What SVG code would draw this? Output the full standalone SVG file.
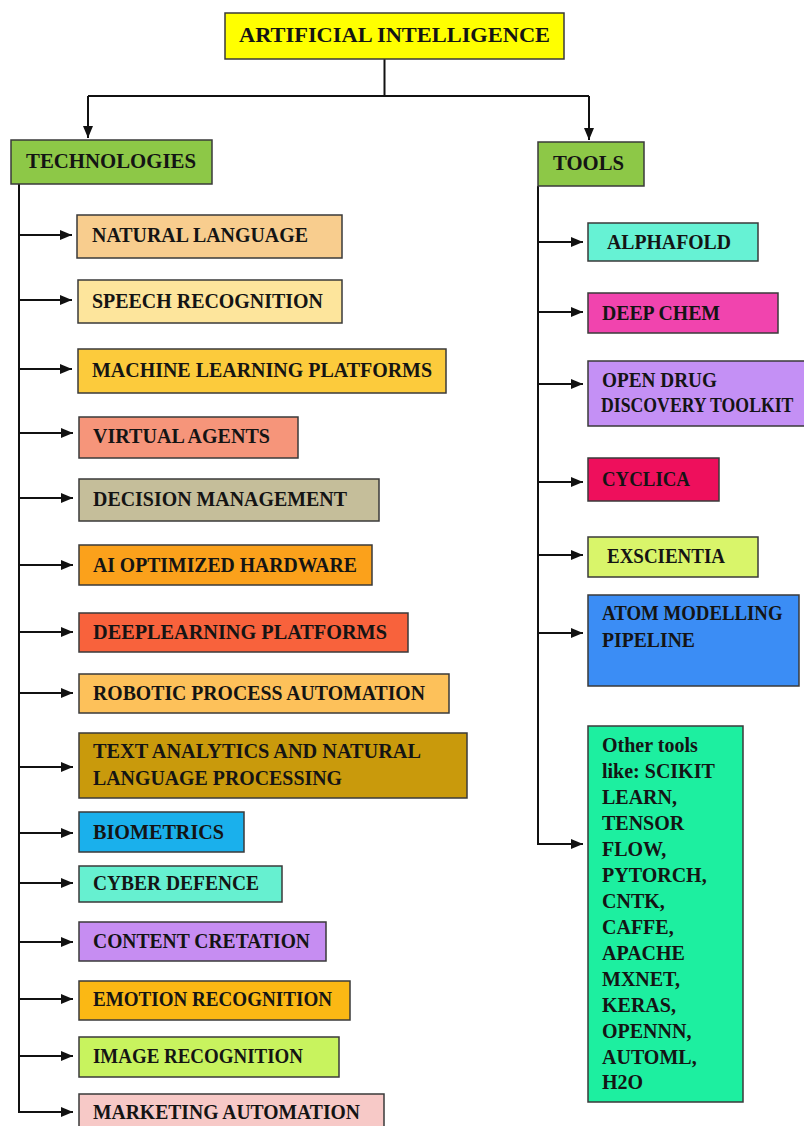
<svg xmlns="http://www.w3.org/2000/svg" width="804" height="1126" viewBox="0 0 804 1126">
<style>
.box{stroke:#3a3a3a;stroke-width:1.5}
.t{font-family:"Liberation Serif","Times New Roman",serif;font-weight:bold;font-size:22px;fill:#141414}
.s{font-family:"Liberation Serif","Times New Roman",serif;font-weight:bold;font-size:20px;fill:#141414}
.c{fill:none;stroke:#111;stroke-width:2}
</style>
<defs>
<marker id="ah" markerUnits="userSpaceOnUse" markerWidth="12" markerHeight="10" refX="12" refY="5" orient="auto">
<path d="M0,0 L12,5 L0,10 z" fill="#111"/>
</marker>
</defs>
<rect width="804" height="1126" fill="#fff"/>
<g id="connectors">
<path class="c" d="M384.5,59 V96"/>
<path class="c" d="M88,96 H589"/>
<path class="c" d="M88,96 V138" marker-end="url(#ah)"/>
<path class="c" d="M589,96 V140" marker-end="url(#ah)"/>
<path class="c" d="M19,184 V1112 H73" marker-end="url(#ah)"/>
<path class="c" d="M19,235 H72" marker-end="url(#ah)"/>
<path class="c" d="M19,300 H72" marker-end="url(#ah)"/>
<path class="c" d="M19,369 H72" marker-end="url(#ah)"/>
<path class="c" d="M19,433 H73" marker-end="url(#ah)"/>
<path class="c" d="M19,498 H73" marker-end="url(#ah)"/>
<path class="c" d="M19,565 H73" marker-end="url(#ah)"/>
<path class="c" d="M19,632 H73" marker-end="url(#ah)"/>
<path class="c" d="M19,693 H73" marker-end="url(#ah)"/>
<path class="c" d="M19,767 H73" marker-end="url(#ah)"/>
<path class="c" d="M19,833 H73" marker-end="url(#ah)"/>
<path class="c" d="M19,883 H73" marker-end="url(#ah)"/>
<path class="c" d="M19,942 H73" marker-end="url(#ah)"/>
<path class="c" d="M19,999 H73" marker-end="url(#ah)"/>
<path class="c" d="M19,1056 H73" marker-end="url(#ah)"/>
<path class="c" d="M538,186 V844 H583" marker-end="url(#ah)"/>
<path class="c" d="M538,242 H583" marker-end="url(#ah)"/>
<path class="c" d="M538,312 H583" marker-end="url(#ah)"/>
<path class="c" d="M538,384 H583" marker-end="url(#ah)"/>
<path class="c" d="M538,482 H583" marker-end="url(#ah)"/>
<path class="c" d="M538,555 H583" marker-end="url(#ah)"/>
<path class="c" d="M538,633 H583" marker-end="url(#ah)"/>
</g>
<g id="ai"><rect class="box" x="225" y="13" width="339" height="46" fill="#FFFF00"/><text class="t" x="239" y="42" textLength="311" lengthAdjust="spacingAndGlyphs">ARTIFICIAL INTELLIGENCE</text></g>
<g id="technologies"><rect class="box" x="11" y="140" width="201" height="44" fill="#8DC847"/><text class="t" x="26" y="168" textLength="170" lengthAdjust="spacingAndGlyphs">TECHNOLOGIES</text></g>
<g id="tools"><rect class="box" x="538" y="142" width="106" height="44" fill="#8DC847"/><text class="t" x="553" y="170" textLength="71" lengthAdjust="spacingAndGlyphs">TOOLS</text></g>

<g id="natural-language"><rect class="box" x="77" y="215" width="265" height="43" fill="#F8CD8E"/><text class="t" x="92" y="242" textLength="216" lengthAdjust="spacingAndGlyphs">NATURAL LANGUAGE</text></g>
<g id="speech-recognition"><rect class="box" x="78" y="280" width="264" height="43" fill="#FDE59C"/><text class="t" x="92" y="308" textLength="231" lengthAdjust="spacingAndGlyphs">SPEECH RECOGNITION</text></g>
<g id="ml-platforms"><rect class="box" x="78" y="349" width="368" height="44" fill="#FCCB3C"/><text class="t" x="92" y="377" textLength="340" lengthAdjust="spacingAndGlyphs">MACHINE LEARNING PLATFORMS</text></g>
<g id="virtual-agents"><rect class="box" x="79" y="417" width="219" height="41" fill="#F6957A"/><text class="t" x="93" y="443" textLength="177" lengthAdjust="spacingAndGlyphs">VIRTUAL AGENTS</text></g>
<g id="decision-management"><rect class="box" x="79" y="479" width="300" height="42" fill="#C5BE9A"/><text class="t" x="93" y="506" textLength="254" lengthAdjust="spacingAndGlyphs">DECISION MANAGEMENT</text></g>
<g id="ai-hardware"><rect class="box" x="79" y="545" width="293" height="40" fill="#FBA11B"/><text class="t" x="93" y="572" textLength="264" lengthAdjust="spacingAndGlyphs">AI OPTIMIZED HARDWARE</text></g>
<g id="deeplearning"><rect class="box" x="79" y="613" width="329" height="39" fill="#F8623C"/><text class="t" x="93" y="639" textLength="294" lengthAdjust="spacingAndGlyphs">DEEPLEARNING PLATFORMS</text></g>
<g id="rpa"><rect class="box" x="79" y="674" width="370" height="39" fill="#FDC15A"/><text class="t" x="93" y="700" textLength="332" lengthAdjust="spacingAndGlyphs">ROBOTIC PROCESS AUTOMATION</text></g>
<g id="text-analytics"><rect class="box" x="79" y="733" width="388" height="65" fill="#C99A0C"/><text class="t" x="93" y="758" textLength="328" lengthAdjust="spacingAndGlyphs">TEXT ANALYTICS AND NATURAL</text><text class="t" x="93" y="785" textLength="249" lengthAdjust="spacingAndGlyphs">LANGUAGE PROCESSING</text></g>
<g id="biometrics"><rect class="box" x="79" y="812" width="165" height="40" fill="#1AB0EC"/><text class="t" x="93" y="839" textLength="131" lengthAdjust="spacingAndGlyphs">BIOMETRICS</text></g>
<g id="cyber-defence"><rect class="box" x="79" y="866" width="203" height="36" fill="#66F0D0"/><text class="t" x="93" y="890" textLength="166" lengthAdjust="spacingAndGlyphs">CYBER DEFENCE</text></g>
<g id="content-creation"><rect class="box" x="79" y="922" width="247" height="39" fill="#C68DF2"/><text class="t" x="93" y="948" textLength="217" lengthAdjust="spacingAndGlyphs">CONTENT CRETATION</text></g>
<g id="emotion-recognition"><rect class="box" x="79" y="981" width="271" height="39" fill="#FBB814"/><text class="t" x="93" y="1006" textLength="239" lengthAdjust="spacingAndGlyphs">EMOTION RECOGNITION</text></g>
<g id="image-recognition"><rect class="box" x="79" y="1037" width="260" height="40" fill="#C8F35E"/><text class="t" x="93" y="1063" textLength="210" lengthAdjust="spacingAndGlyphs">IMAGE RECOGNITION</text></g>
<g id="marketing-automation"><rect class="box" x="79" y="1094" width="305" height="40" fill="#F7C9C7"/><text class="t" x="93" y="1119" textLength="267" lengthAdjust="spacingAndGlyphs">MARKETING AUTOMATION</text></g>

<g id="alphafold"><rect class="box" x="588" y="223" width="170" height="38" fill="#66F2D4"/><text class="t" x="607" y="249" textLength="124" lengthAdjust="spacingAndGlyphs">ALPHAFOLD</text></g>
<g id="deep-chem"><rect class="box" x="588" y="293" width="190" height="40" fill="#F144AE"/><text class="t" x="602" y="320" textLength="118" lengthAdjust="spacingAndGlyphs">DEEP CHEM</text></g>
<g id="open-drug"><rect class="box" x="588" y="361" width="225" height="65" fill="#C490F5"/><text class="t" x="602" y="387" textLength="115" lengthAdjust="spacingAndGlyphs">OPEN DRUG</text><text class="t" transform="translate(601,412) scale(0.805,1)" x="0" y="0">DISCOVERY TOOLKIT</text></g>
<g id="cyclica"><rect class="box" x="588" y="458" width="131" height="43" fill="#EE0F5C"/><text class="t" x="602" y="486" textLength="88" lengthAdjust="spacingAndGlyphs">CYCLICA</text></g>
<g id="exscientia"><rect class="box" x="588" y="537" width="170" height="40" fill="#D9F56A"/><text class="t" x="607" y="563" textLength="118" lengthAdjust="spacingAndGlyphs">EXSCIENTIA</text></g>
<g id="atom"><rect class="box" x="588" y="595" width="211" height="91" fill="#3B8DF5"/><text class="t" transform="translate(602,620) scale(0.855,1)" x="0" y="0">ATOM MODELLING</text><text class="t" x="602" y="647" textLength="93" lengthAdjust="spacingAndGlyphs">PIPELINE</text></g>
<g id="other-tools"><rect class="box" x="588" y="726" width="155" height="376" fill="#1DEFA0"/>
<text class="s" x="602" y="752">Other tools</text>
<text class="s" x="602" y="778">like: SCIKIT</text>
<text class="s" x="602" y="804">LEARN,</text>
<text class="s" x="602" y="830">TENSOR</text>
<text class="s" x="602" y="856">FLOW,</text>
<text class="s" x="602" y="882">PYTORCH,</text>
<text class="s" x="602" y="908">CNTK,</text>
<text class="s" x="602" y="934">CAFFE,</text>
<text class="s" x="602" y="960">APACHE</text>
<text class="s" x="602" y="986">MXNET,</text>
<text class="s" x="602" y="1012">KERAS,</text>
<text class="s" x="602" y="1038">OPENNN,</text>
<text class="s" x="602" y="1064">AUTOML,</text>
<text class="s" x="602" y="1089">H2O</text>
</g>
</svg>
